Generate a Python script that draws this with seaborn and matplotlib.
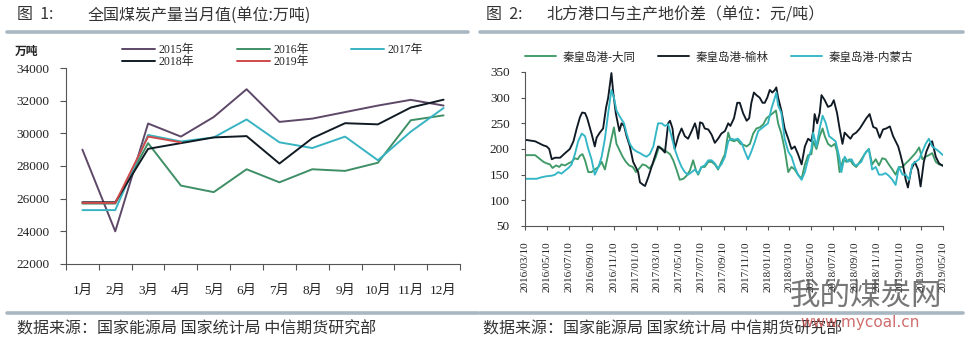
import matplotlib
matplotlib.use("Agg")
import matplotlib.pyplot as plt
from matplotlib.lines import Line2D
from matplotlib.font_manager import FontProperties
import seaborn as sns
import pandas as pd
import numpy as np

sns.set_theme(style="white")
plt.rcParams['font.family'] = ['Noto Sans CJK SC', 'DejaVu Sans']
plt.rcParams['axes.unicode_minus'] = False

# ---------------- data: figure 1 ----------------
months = ['1月', '2月', '3月', '4月', '5月', '6月', '7月', '8月', '9月', '10月', '11月', '12月']
prod_2015 = [29000, 24000, 30600, 29800, 31000, 32700, 30700, 30900, 31300, 31700, 32050, 31700]
prod_2016 = [25700, 25700, 29400, 26800, 26400, 27800, 27000, 27800, 27700, 28200, 30800, 31100]
prod_2017 = [25300, 25300, 29900, 29500, 29750, 30850, 29450, 29100, 29800, 28350, 30100, 31550]
prod_2018 = [25780, 25780, 29050, 29400, 29750, 29830, 28150, 29700, 30620, 30550, 31580, 32060]
prod_2019 = [25740, 25740, 29800, 29450]
years = ['2015年', '2016年', '2017年', '2018年', '2019年']
y1_ticks = [22000, 24000, 26000, 28000, 30000, 32000, 34000]

# ---------------- data: figure 2 ----------------
start_date = '2016-03-10'
datong_days = [0, 28, 37, 51, 60, 69, 76, 86, 95, 101, 111, 120, 129, 138, 146, 152, 159, 166, 175, 184,
               193, 203, 212, 221, 230, 239, 246, 253, 261, 270, 279, 288, 298, 307, 316, 325, 334, 344,
               353, 362, 371, 380, 391, 401, 410, 419, 428, 438, 447, 456, 465, 473, 479, 488, 497, 507,
               516, 525, 534, 543, 553, 562, 568, 578, 587, 596, 605, 613, 622, 631, 640, 649, 659, 668,
               677, 686, 694, 700, 709, 718, 728, 737, 746, 755, 765, 774, 783, 792, 797, 806, 815, 823,
               829, 838, 847, 857, 863, 870, 880, 889, 898, 907, 916, 926, 935, 944, 951, 960, 970, 979,
               988, 997, 1006, 1016, 1025, 1034, 1044, 1053, 1062, 1071, 1080, 1090, 1099, 1108, 1117,
               1126, 1136, 1145, 1156]
datong = [188, 188, 183, 175, 172, 170, 163, 168, 165, 170, 168, 172, 175, 182, 180, 187, 190, 178, 155, 155,
          160, 165, 175, 160, 190, 220, 242, 210, 198, 185, 175, 168, 165, 155, 162, 170, 168, 162,
          170, 185, 205, 200, 195, 190, 178, 160, 140, 142, 148, 158, 178, 158, 150, 165, 165, 175,
          175, 170, 160, 175, 190, 232, 218, 215, 218, 210, 208, 205, 210, 230, 240, 242, 248, 260,
          265, 270, 275, 250, 230, 200, 155, 165, 160, 150, 142, 170, 188, 190, 215, 200, 225, 240,
          225, 210, 205, 210, 195, 155, 180, 175, 180, 170, 165, 175, 185, 195, 200, 170, 180, 168,
          182, 180, 170, 160, 150, 165, 165, 172, 178, 185, 192, 203, 180, 185, 188,
          192, 175, 170, 168]

yulin_days = [0, 28, 51, 60, 67, 74, 83, 97, 111, 124, 134, 143, 152, 158, 166, 172, 184, 193, 198, 207,
              216, 224, 230, 239, 244, 251, 261, 267, 274, 281, 290, 299, 313, 318, 327, 332, 341, 350,
              359, 368, 378, 387, 396, 401, 408, 414, 424, 433, 442, 451, 461, 470, 474, 479, 484, 491,
              497, 507, 516, 525, 534, 543, 553, 562, 568, 578, 587, 594, 603, 613, 620, 626, 633, 640,
              649, 657, 663, 670, 677, 684, 691, 695, 700, 709, 718, 728, 737, 746, 755, 765, 774, 783,
              792, 797, 801, 808, 815, 820, 829, 838, 847, 854, 863, 870, 878, 884, 893, 900, 907, 916,
              926, 935, 944, 953, 963, 972, 981, 990, 999, 1009, 1018, 1025, 1032, 1038, 1045, 1053,
              1059, 1068, 1078, 1087, 1094, 1103, 1110, 1119, 1126, 1136, 1145, 1156]
yulin = [218, 215, 207, 205, 200, 180, 183, 183, 192, 200, 215, 240, 262, 271, 270, 260, 230, 205, 222, 232,
         240, 280, 300, 348, 310, 270, 235, 250, 245, 225, 205, 175, 155, 135, 130, 128, 145, 165,
         185, 205, 200, 193, 250, 255, 240, 200, 225, 240, 225, 220, 235, 250, 240, 220, 252, 250,
         240, 238, 228, 212, 220, 230, 235, 250, 245, 260, 290, 290, 270, 255, 260, 290, 310, 305,
         300, 290, 290, 300, 315, 310, 315, 320, 300, 275, 240, 220, 200, 205, 190, 170, 205, 220,
         215, 235, 268, 250, 270, 305, 295, 282, 285, 295, 270, 240, 210, 232, 225, 220, 228, 232,
         240, 250, 260, 268, 243, 240, 222, 238, 240, 244, 225, 215, 205, 190, 170, 140,
         125, 160, 175, 160, 127, 175, 195, 210, 215, 185, 172, 167]

nmg_days = [0, 32, 46, 60, 74, 83, 92, 101, 111, 120, 129, 138, 147, 157, 166, 175, 184, 193, 203, 212,
            221, 230, 239, 246, 253, 263, 274, 281, 290, 299, 309, 318, 327, 336, 345, 355, 362, 368,
            378, 387, 396, 405, 414, 424, 433, 442, 451, 461, 470, 479, 488, 497, 507, 516, 525, 534,
            543, 553, 562, 571, 580, 589, 599, 608, 617, 626, 636, 645, 654, 663, 672, 682, 691, 695,
            700, 709, 718, 728, 737, 746, 755, 765, 774, 783, 792, 797, 806, 815, 823, 832, 841, 850,
            859, 869, 875, 884, 893, 903, 912, 921, 930, 939, 951, 960, 970, 979, 988, 997, 1006, 1016,
            1025, 1034, 1044, 1053, 1062, 1071, 1080, 1090, 1099, 1108, 1117, 1126, 1136, 1145, 1156]
nmg = [142, 142, 145, 147, 148, 150, 155, 152, 158, 163, 170, 190, 215, 230, 225, 200, 180, 150, 165, 185,
       220, 270, 315, 300, 275, 262, 250, 230, 210, 200, 195, 192, 188, 185, 190, 205, 230, 250,
       250, 245, 248, 225, 200, 180, 165, 155, 150, 155, 160, 152, 165, 168, 178, 178, 172, 162,
       170, 185, 215, 220, 218, 220, 212, 195, 180, 195, 215, 235, 240, 245, 250, 280, 300, 310,
       285, 270, 220, 195, 185, 165, 150, 140, 155, 180, 200, 232, 205, 240, 265, 250, 225, 220,
       215, 185, 155, 185, 175, 180, 168, 170, 175, 190, 200, 160, 165, 150, 150, 153, 148, 140,
       130, 165, 150, 150, 140, 170, 175, 180, 195, 210, 220, 205, 200, 195, 188]

date_ticks = ['2016/03/10', '2016/05/10', '2016/07/10', '2016/09/10', '2016/11/10', '2017/01/10',
              '2017/03/10', '2017/05/10', '2017/07/10', '2017/09/10', '2017/11/10', '2018/01/10',
              '2018/03/10', '2018/05/10', '2018/07/10', '2018/09/10', '2018/11/10', '2019/01/10',
              '2019/03/10', '2019/05/10']
series2 = ['秦皇岛港-大同', '秦皇岛港-榆林', '秦皇岛港-内蒙古']
y2_ticks = [50, 100, 150, 200, 250, 300, 350]

# ---------------- styles ----------------
W, H = 966, 341
fig = plt.figure(figsize=(W / 100, H / 100), dpi=100)
fig.patch.set_facecolor('white')

def fx(px):
    return px / W

def fy(py):
    return 1 - py / H

serif_cjk = ['Liberation Serif', 'Noto Sans CJK SC']
cjk = ['Noto Sans CJK SC', 'DejaVu Sans']
text_col = '#333333'
rule_col = '#a9b7c2'

year_colors = {'2015年': '#5e4868', '2016年': '#3f8f66', '2017年': '#38b3c2',
               '2018年': '#111b24', '2019年': '#cf4a4a'}
s2_colors = {'秦皇岛港-大同': '#3f9a68', '秦皇岛港-榆林': '#101a24', '秦皇岛港-内蒙古': '#33b6c6'}

# ---------------- header / footer decorations ----------------
fig.text(fx(17), fy(15), '图  1:', family=cjk, fontsize=11.5, color=text_col, va='center')
fig.text(fx(88), fy(15), '全国煤炭产量当月值(单位:万吨)', family=cjk, fontsize=11.5, color=text_col, va='center')
fig.text(fx(486), fy(15), '图  2:', family=cjk, fontsize=11.5, color=text_col, va='center')
fig.text(fx(546), fy(15), '北方港口与主产地价差（单位：元/吨）', family=cjk, fontsize=11.5, color=text_col, va='center')
for (x0, x1, y) in [(7, 468, 32), (480, 963, 32), (7, 478, 313), (480, 963, 313)]:
    fig.add_artist(Line2D([fx(x0), fx(x1)], [fy(y), fy(y)], color=rule_col, lw=2.6,
                          transform=fig.transFigure))
fig.text(fx(17), fy(329), '数据来源：国家能源局 国家统计局 中信期货研究部', family=cjk,
         fontsize=11.5, color=text_col, va='center')
fig.text(fx(483), fy(329), '数据来源：国家能源局 国家统计局 中信期货研究部', family=cjk,
         fontsize=11.5, color=text_col, va='center')
# watermark
fig.text(fx(790), fy(296), '我的煤炭网', family=cjk, fontsize=22, color='#4a4a4a', alpha=0.75, va='center')
fig.text(fx(800), fy(323), 'www.mycoal.cn', family=['DejaVu Sans'], fontsize=11, color='#c24848',
         alpha=0.8, va='center')

# ---------------- figure 1 ----------------
ax1 = fig.add_axes([fx(66), fy(264), fx(460) - fx(66), fy(68) - fy(264)])
prod = {'2015年': prod_2015, '2016年': prod_2016, '2017年': prod_2017, '2018年': prod_2018, '2019年': prod_2019}
for yr in years:
    vals = prod[yr]
    d = pd.DataFrame({'m': np.arange(len(vals)), 'v': vals})
    sns.lineplot(data=d, x='m', y='v', ax=ax1, color=year_colors[yr], lw=1.4, label=yr)
ax1.set_xlim(-0.5, len(months) - 0.5)
ax1.set_ylim(y1_ticks[0], y1_ticks[-1])
ax1.set_yticks(y1_ticks)
ax1.set_yticklabels([str(v) for v in y1_ticks], family=serif_cjk, fontsize=9.5, color='#222222')
ax1.set_xticks(np.arange(len(months)))
ax1.set_xticklabels(months, family=serif_cjk, fontsize=9.5, color='#222222')
ax1.set_xticks(np.arange(len(months) + 1) - 0.5, minor=True)
ax1.tick_params(axis='x', which='major', length=0, pad=15)
ax1.tick_params(axis='x', which='minor', length=4, width=0.8, color='#555555', direction='out', bottom=True)
ax1.tick_params(axis='y', which='major', length=4, width=0.8, color='#555555', direction='out', left=True, pad=8)
ax1.set_xlabel('')
ax1.set_ylabel('')
for sp in ['top', 'right']:
    ax1.spines[sp].set_visible(False)
for sp in ['left', 'bottom']:
    ax1.spines[sp].set_color('#555555')
    ax1.spines[sp].set_linewidth(0.8)
ax1.set_facecolor('white')
h, l = ax1.get_legend_handles_labels()
ax1.get_legend().remove()
hm = dict(zip(l, h))
order = ['2015年', '2018年', '2016年', '2019年', '2017年']
fig.legend([hm[k] for k in order], order, loc='upper left', bbox_to_anchor=(fx(122), fy(44)),
           ncol=3, frameon=False, prop=FontProperties(family=serif_cjk, size=8.5),
           handlelength=2.8, handletextpad=0.3, columnspacing=3.6, labelspacing=0.0,
           borderpad=0, borderaxespad=0)
fig.text(fx(15), fy(51), '万吨', family=cjk, fontsize=8.5, color='#222222', va='center', weight='bold')

# ---------------- figure 2 ----------------
ax2 = fig.add_axes([fx(525), fy(226), fx(943) - fx(525), fy(72) - fy(226)])
t0 = pd.Timestamp(start_date)
s2 = {'秦皇岛港-大同': (datong_days, datong), '秦皇岛港-榆林': (yulin_days, yulin),
      '秦皇岛港-内蒙古': (nmg_days, nmg)}
for name in series2:
    days, vals = s2[name]
    d = pd.DataFrame({'date': t0 + pd.to_timedelta(days, unit='D'), 'v': vals})
    sns.lineplot(data=d, x='date', y='v', ax=ax2, color=s2_colors[name], lw=1.35, label=name)
tick_dates = pd.to_datetime(date_ticks, format='%Y/%m/%d')
ax2.set_xlim(tick_dates[0], tick_dates[-1])
ax2.set_ylim(y2_ticks[0], y2_ticks[-1])
ax2.set_yticks(y2_ticks)
ax2.set_yticklabels([str(v) for v in y2_ticks], family=serif_cjk, fontsize=9.5, color='#222222')
ax2.set_xticks(tick_dates)
ax2.set_xticklabels(date_ticks, family=serif_cjk, fontsize=8, color='#222222', rotation=90)
ax2.tick_params(axis='x', length=3, width=0.8, color='#555555', direction='out', bottom=True, pad=8)
ax2.tick_params(axis='y', length=3, width=0.8, color='#555555', direction='out', left=True, pad=8)
ax2.set_xlabel('')
ax2.set_ylabel('')
for sp in ['top', 'right']:
    ax2.spines[sp].set_visible(False)
for sp in ['left', 'bottom']:
    ax2.spines[sp].set_color('#555555')
    ax2.spines[sp].set_linewidth(0.8)
ax2.set_facecolor('white')
h2, l2 = ax2.get_legend_handles_labels()
ax2.get_legend().remove()
fig.legend(h2, l2, loc='center left', bbox_to_anchor=(fx(525), fy(57)), ncol=3, frameon=False,
           prop=FontProperties(family=cjk, size=8.3), handlelength=2.7, handletextpad=0.6,
           columnspacing=1.9, borderpad=0, borderaxespad=0)

fig.savefig('out.png', dpi=100, facecolor='white')
